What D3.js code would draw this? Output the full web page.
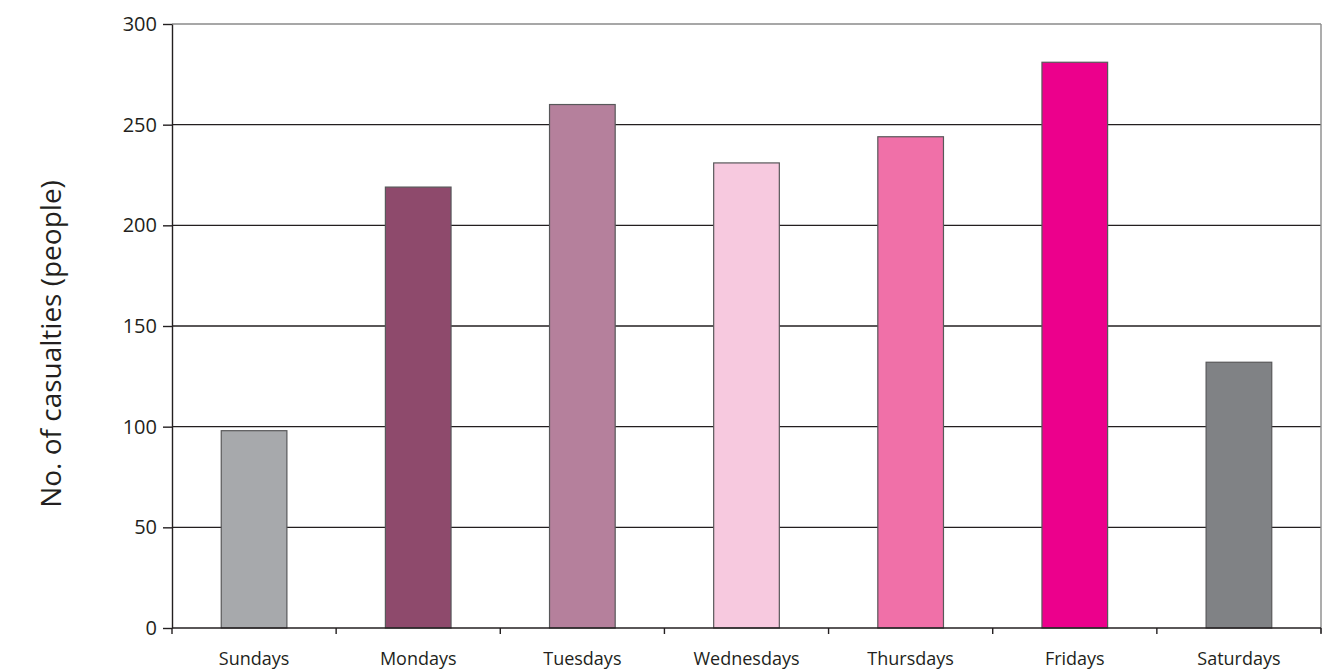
<!DOCTYPE html>
<html>
<head>
<meta charset="utf-8">
<script src="https://cdn.jsdelivr.net/npm/d3@7"></script>
<style>
  body { margin: 0; background: #fff; }
  text { font-family: "Open Sans", "Noto Sans", sans-serif; fill: #231f20; }
</style>
</head>
<body>
<div id="chart"></div>
<script>
// --- Data ---
const days = ["Sundays", "Mondays", "Tuesdays", "Wednesdays", "Thursdays", "Fridays", "Saturdays"];
const casualties = [98, 219, 260, 231, 244, 281, 132];
const barColors = ["#a7a9ac", "#8e4a6c", "#b5809c", "#f7c9df", "#f070a8", "#ec008c", "#808285"];
const yTicks = [0, 50, 100, 150, 200, 250, 300];

const width = 1331, height = 671;
const margin = { top: 24, right: 10, bottom: 43, left: 172 };

const svg = d3.select("#chart").append("svg")
    .attr("width", width)
    .attr("height", height);

const x = d3.scaleBand()
    .domain(days)
    .range([margin.left, width - margin.right])
    .paddingInner(0.6)
    .paddingOuter(0.3);

// full-width bands for the category ticks and labels
const xCat = d3.scaleBand()
    .domain(days)
    .range([margin.left, width - margin.right]);

const y = d3.scaleLinear()
    .domain([0, 300])
    .range([height - margin.bottom, margin.top]);

// --- Gridlines ---
svg.append("g")
    .selectAll("line")
    .data(yTicks.filter(d => d > 0))
    .join("line")
    .attr("x1", margin.left)
    .attr("x2", width - margin.right)
    .attr("y1", d => y(d))
    .attr("y2", d => y(d))
    .attr("stroke", d => d === 300 ? "#8a8a8a" : "#231f20")
    .attr("stroke-width", 1.4);

// right border
svg.append("line")
    .attr("x1", width - margin.right)
    .attr("x2", width - margin.right)
    .attr("y1", y(300))
    .attr("y2", y(0) + 5)
    .attr("stroke", "#8a8a8a")
    .attr("stroke-width", 1.4);

// --- Bars ---
svg.append("g")
    .selectAll("rect")
    .data(days)
    .join("rect")
    .attr("x", d => x(d))
    .attr("width", x.bandwidth())
    .attr("y", (d, i) => y(casualties[i]))
    .attr("height", (d, i) => y(0) - y(casualties[i]))
    .attr("fill", (d, i) => barColors[i])
    .attr("stroke", "#58585a")
    .attr("stroke-width", 1.2);

// --- Y axis ---
const yAxis = svg.append("g")
    .attr("transform", `translate(${margin.left},0)`)
    .call(d3.axisLeft(y).tickValues(yTicks).tickSize(9).tickPadding(6).tickSizeOuter(0));
yAxis.select(".domain").attr("stroke", "#231f20").attr("stroke-width", 1.4);
yAxis.selectAll(".tick line").attr("stroke", "#231f20").attr("stroke-width", 1.4);
yAxis.selectAll(".tick text")
    .style("font-family", '"Open Sans", sans-serif')
    .attr("font-size", 20)
    .attr("fill", "#231f20");

// --- X axis ---
const xAxisG = svg.append("g")
    .attr("transform", `translate(0,${y(0)})`);
xAxisG.append("line")
    .attr("x1", margin.left)
    .attr("x2", width - margin.right)
    .attr("stroke", "#231f20")
    .attr("stroke-width", 1.4);
xAxisG.selectAll("line.tick")
    .data(days.concat(["end"]))
    .join("line")
    .attr("class", "tick")
    .attr("x1", d => d === "end" ? width - margin.right : xCat(d))
    .attr("x2", d => d === "end" ? width - margin.right : xCat(d))
    .attr("y1", 0)
    .attr("y2", 6)
    .attr("stroke", "#231f20")
    .attr("stroke-width", 1.4);
xAxisG.selectAll("text")
    .data(days)
    .join("text")
    .attr("x", d => xCat(d) + xCat.bandwidth() / 2)
    .attr("y", 37)
    .attr("text-anchor", "middle")
    .attr("font-size", 18)
    .text(d => d);

// --- Y title ---
svg.append("text")
    .attr("transform", "translate(61,344) rotate(-90)")
    .attr("text-anchor", "middle")
    .attr("font-size", 28)
    .text("No. of casualties (people)");
</script>
</body>
</html>
